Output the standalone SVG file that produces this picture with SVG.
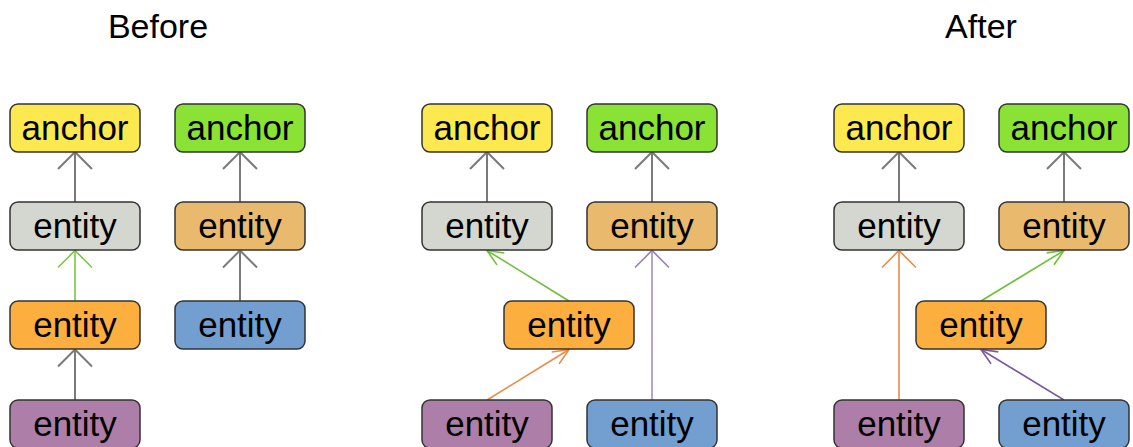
<svg xmlns="http://www.w3.org/2000/svg" width="1133" height="447" viewBox="0 0 1133 447">
<style>
.box{stroke:#333;stroke-width:1.5}
.lbl{font-family:"Liberation Sans",Arial,sans-serif;font-size:35px;fill:#000;text-anchor:middle}
.title{font-family:"Liberation Sans",Arial,sans-serif;font-size:34px;fill:#000;text-anchor:middle}
.yellow{fill:#fce94f}.green{fill:#8ae234}.gray{fill:#d3d7cf}.tan{fill:#e9b96e}.orange{fill:#fcaf3e}.purple{fill:#ad7fa8}.blue{fill:#729fcf}
.c{fill:none}
.cg{stroke:#7a7a7a;stroke-width:2}
.cgr{stroke:#79c843;stroke-width:1.6}
.cor{stroke:#ea8a48;stroke-width:1.6}
.cpu{stroke:#9a7db5;stroke-width:1.6}
</style>
<defs>
<marker id="vg" markerUnits="userSpaceOnUse" orient="auto" viewBox="-20 -20 24 40" refX="0" refY="0" markerWidth="24" markerHeight="40"><path d="M-17,-17 L0,0 L-17,17" fill="none" stroke="#7a7a7a" stroke-width="2"/></marker>
<marker id="vgr" markerUnits="userSpaceOnUse" orient="auto" viewBox="-20 -20 24 40" refX="0" refY="0" markerWidth="24" markerHeight="40"><path d="M-17,-17 L0,0 L-17,17" fill="none" stroke="#79c843" stroke-width="1.6"/></marker>
<marker id="vor" markerUnits="userSpaceOnUse" orient="auto" viewBox="-20 -20 24 40" refX="0" refY="0" markerWidth="24" markerHeight="40"><path d="M-17,-17 L0,0 L-17,17" fill="none" stroke="#ea8a48" stroke-width="1.6"/></marker>
<marker id="vpu" markerUnits="userSpaceOnUse" orient="auto" viewBox="-20 -20 24 40" refX="0" refY="0" markerWidth="24" markerHeight="40"><path d="M-17,-17 L0,0 L-17,17" fill="none" stroke="#9a7db5" stroke-width="1.6"/></marker>
<marker id="dgr" markerUnits="userSpaceOnUse" orient="auto" viewBox="-20 -12 24 24" refX="0" refY="0" markerWidth="24" markerHeight="24"><path d="M-16,-7 L0,0 L-16,7" fill="none" stroke="#6fbf38" stroke-width="1.6"/></marker>
<marker id="dor" markerUnits="userSpaceOnUse" orient="auto" viewBox="-20 -12 24 24" refX="0" refY="0" markerWidth="24" markerHeight="24"><path d="M-16,-7 L0,0 L-16,7" fill="none" stroke="#ea8a48" stroke-width="1.6"/></marker>
<marker id="dpu" markerUnits="userSpaceOnUse" orient="auto" viewBox="-20 -12 24 24" refX="0" refY="0" markerWidth="24" markerHeight="24"><path d="M-16,-7 L0,0 L-16,7" fill="none" stroke="#7d5a9b" stroke-width="1.6"/></marker>
</defs>
<rect width="1133" height="447" fill="#fff"/>
<text class="title" x="158" y="38">Before</text>
<text class="title" x="981" y="38">After</text>
<g id="connectors">
<path class="c cg" d="M75,202 L75,152" marker-end="url(#vg)"/>
<path class="c cg" d="M240,202 L240,152" marker-end="url(#vg)"/>
<path class="c cgr" d="M75,301 L75,250.5" marker-end="url(#vgr)"/>
<path class="c cg" d="M75,400 L75,349.5" marker-end="url(#vg)"/>
<path class="c cg" d="M240,301 L240,250.5" marker-end="url(#vg)"/>
<path class="c cg" d="M487,202 L487,152" marker-end="url(#vg)"/>
<path class="c cg" d="M652,202 L652,152" marker-end="url(#vg)"/>
<path class="c cgr" d="M569,301 L487,250.5" style="stroke:#6fbf38" marker-end="url(#dgr)"/>
<path class="c cor" d="M487,400 L569,349.5" marker-end="url(#dor)"/>
<path class="c cpu" d="M652,400 L652,250.5" style="stroke:#a58fbd" marker-end="url(#vpu)"/>
<path class="c cg" d="M899,202 L899,152" marker-end="url(#vg)"/>
<path class="c cg" d="M1064,202 L1064,152" marker-end="url(#vg)"/>
<path class="c cor" d="M899,400 L899,250.5" marker-end="url(#vor)"/>
<path class="c cgr" d="M981,301 L1064,250.5" style="stroke:#6fbf38" marker-end="url(#dgr)"/>
<path class="c cpu" d="M1064,400 L981,349.5" style="stroke:#7d5a9b" marker-end="url(#dpu)"/>
</g>
<g id="b-anchor1"><rect class="box yellow" x="10" y="104" width="130" height="48" rx="8"/><text class="lbl" x="75" y="140">anchor</text></g>
<g id="b-anchor2"><rect class="box green" x="175" y="104" width="130" height="48" rx="8"/><text class="lbl" x="240" y="140">anchor</text></g>
<g id="b-entity-gray"><rect class="box gray" x="10" y="202" width="130" height="48" rx="8"/><text class="lbl" x="75" y="238">entity</text></g>
<g id="b-entity-tan"><rect class="box tan" x="175" y="202" width="130" height="48" rx="8"/><text class="lbl" x="240" y="238">entity</text></g>
<g id="b-entity-orange"><rect class="box orange" x="10" y="301" width="130" height="48" rx="8"/><text class="lbl" x="75" y="337">entity</text></g>
<g id="b-entity-blue"><rect class="box blue" x="175" y="301" width="130" height="48" rx="8"/><text class="lbl" x="240" y="337">entity</text></g>
<g id="b-entity-purple"><rect class="box purple" x="10" y="400" width="130" height="48" rx="8"/><text class="lbl" x="75" y="436">entity</text></g>
<g id="m-anchor1"><rect class="box yellow" x="422" y="104" width="130" height="48" rx="8"/><text class="lbl" x="487" y="140">anchor</text></g>
<g id="m-anchor2"><rect class="box green" x="587" y="104" width="130" height="48" rx="8"/><text class="lbl" x="652" y="140">anchor</text></g>
<g id="m-entity-gray"><rect class="box gray" x="422" y="202" width="130" height="48" rx="8"/><text class="lbl" x="487" y="238">entity</text></g>
<g id="m-entity-tan"><rect class="box tan" x="587" y="202" width="130" height="48" rx="8"/><text class="lbl" x="652" y="238">entity</text></g>
<g id="m-entity-orange"><rect class="box orange" x="504" y="301" width="130" height="48" rx="8"/><text class="lbl" x="569" y="337">entity</text></g>
<g id="m-entity-purple"><rect class="box purple" x="422" y="400" width="130" height="48" rx="8"/><text class="lbl" x="487" y="436">entity</text></g>
<g id="m-entity-blue"><rect class="box blue" x="587" y="400" width="130" height="48" rx="8"/><text class="lbl" x="652" y="436">entity</text></g>
<g id="a-anchor1"><rect class="box yellow" x="834" y="104" width="130" height="48" rx="8"/><text class="lbl" x="899" y="140">anchor</text></g>
<g id="a-anchor2"><rect class="box green" x="999" y="104" width="130" height="48" rx="8"/><text class="lbl" x="1064" y="140">anchor</text></g>
<g id="a-entity-gray"><rect class="box gray" x="834" y="202" width="130" height="48" rx="8"/><text class="lbl" x="899" y="238">entity</text></g>
<g id="a-entity-tan"><rect class="box tan" x="999" y="202" width="130" height="48" rx="8"/><text class="lbl" x="1064" y="238">entity</text></g>
<g id="a-entity-orange"><rect class="box orange" x="916" y="301" width="130" height="48" rx="8"/><text class="lbl" x="981" y="337">entity</text></g>
<g id="a-entity-purple"><rect class="box purple" x="834" y="400" width="130" height="48" rx="8"/><text class="lbl" x="899" y="436">entity</text></g>
<g id="a-entity-blue"><rect class="box blue" x="999" y="400" width="130" height="48" rx="8"/><text class="lbl" x="1064" y="436">entity</text></g>
</svg>
